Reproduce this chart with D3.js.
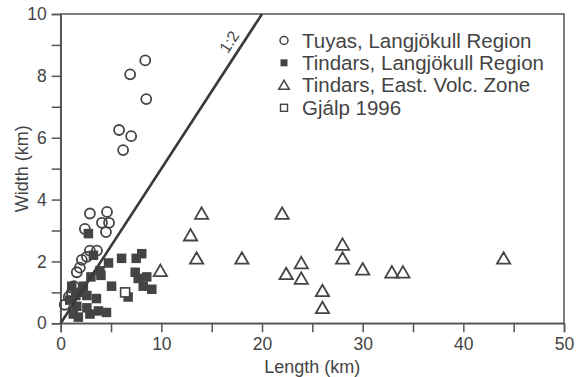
<!DOCTYPE html>
<html>
<head>
<meta charset="utf-8">
<script src="https://cdn.jsdelivr.net/npm/d3@7"></script>
<style>
body { margin: 0; background: #fff; }
text { font-family: "Liberation Sans", Arial, sans-serif; fill: #444; }
</style>
</head>
<body>
<div id="chart"></div>
<script>
// Tuyas, Langjökull Region (open circles)
var tuyasLength = [8.4, 6.9, 8.5, 5.8, 7.0, 6.2, 2.9, 4.6, 4.1, 4.8, 4.5, 2.4, 2.9, 3.6, 2.1, 2.6, 1.6, 1.9, 1.3, 0.8, 0.4, 1.1]
var tuyasWidth  = [8.5, 8.05, 7.25, 6.25, 6.05, 5.6, 3.55, 3.6, 3.25, 3.25, 2.95, 3.05, 2.35, 2.35, 2.05, 2.15, 1.65, 1.8, 1.2, 0.85, 0.6, 1.0]
// Tindars, Langjökull Region (filled squares)
var tindarsLength = [2.75, 3.25, 4.75, 3.9, 4.0, 6.05, 7.5, 8.05, 7.4, 7.7, 8.55, 8.2, 9.05, 5.05, 6.7, 1.1, 2.25, 2.6, 3.55, 0.9, 1.6, 2.6, 3.75, 4.55, 1.75, 2.9, 1.25, 2.0, 1.5, 3.0]
var tindarsWidth  = [2.9, 2.2, 1.95, 1.7, 1.55, 2.1, 2.1, 2.25, 1.65, 1.45, 1.5, 1.2, 1.1, 1.2, 0.85, 1.2, 1.2, 0.9, 0.8, 0.75, 0.55, 0.5, 0.4, 0.35, 0.2, 0.3, 0.3, 1.0, 0.9, 1.5]
// Tindars, East. Volc. Zone (open triangles)
var evzLength = [9.9, 14.0, 22.0, 12.9, 13.5, 18.0, 22.4, 23.9, 23.9, 26.0, 26.0, 28.0, 28.0, 30.0, 32.9, 34.0, 44.0]
var evzWidth  = [1.65, 3.5, 3.5, 2.8, 2.05, 2.05, 1.55, 1.9, 1.4, 1.0, 0.45, 2.5, 2.05, 1.7, 1.6, 1.6, 2.05]
// Gjálp 1996 (open square)
var gjalpLength = [6.4]
var gjalpWidth  = [1.0]

var legendLabels = ["Tuyas, Langjökull Region", "Tindars, Langjökull Region", "Tindars, East. Volc. Zone", "Gjálp 1996"]
var xTicks = [0, 10, 20, 30, 40, 50]
var yTicks = [0, 2, 4, 6, 8, 10]
var ratioLine = [[0, 0], [20, 10]]

var W = 585, H = 377
var margin = {left: 60.7, right: 21, top: 14, bottom: 53.7}
var ink = "#444"

var svg = d3.select("#chart").append("svg").attr("width", W).attr("height", H)

var x = d3.scaleLinear().domain([0, 50]).range([margin.left, W - margin.right])
var y = d3.scaleLinear().domain([0, 10]).range([H - margin.bottom, margin.top])

// frame
svg.append("rect")
    .attr("x", x(0)).attr("y", y(10))
    .attr("width", x(50) - x(0)).attr("height", y(0) - y(10))
    .attr("fill", "none").attr("stroke", "#555").attr("stroke-width", 1.5)

svg.append("g").attr("transform", "translate(0," + y(0) + ")")
    .call(d3.axisBottom(x).tickValues(d3.range(0, 51, 5)).tickSize(9).tickPadding(5)
        .tickFormat(function(d) { return xTicks.indexOf(d) >= 0 ? d : ""; }))
svg.append("g").attr("transform", "translate(" + x(0) + ",0)")
    .call(d3.axisLeft(y).tickValues(d3.range(0, 11, 1)).tickSize(9).tickPadding(5)
        .tickFormat(function(d) { return yTicks.indexOf(d) >= 0 ? d : ""; }))
svg.selectAll(".domain").attr("stroke", "#555").attr("stroke-width", 1.5)
svg.selectAll(".tick line").attr("stroke", "#555").attr("stroke-width", 1.5)
svg.selectAll(".tick text").attr("font-size", 17.5).attr("fill", ink)
    .attr("font-family", "Liberation Sans, Arial, sans-serif")

svg.append("text").attr("x", (x(0) + x(50)) / 2).attr("y", 373)
    .attr("text-anchor", "middle").attr("font-size", 18).text("Length (km)")
svg.append("text").attr("transform", "translate(27.5," + (y(5)) + ") rotate(-90)")
    .attr("text-anchor", "middle").attr("font-size", 18).text("Width (km)")

// markers
function pairs(a, b) { return a.map(function(v, i) { return [v, b[i]]; }); }
var sq = 9.5

svg.append("g").selectAll("rect").data(pairs(tindarsLength, tindarsWidth)).enter().append("rect")
    .attr("x", function(d) { return x(d[0]) - sq / 2; })
    .attr("y", function(d) { return y(d[1]) - sq / 2; })
    .attr("width", sq).attr("height", sq).attr("fill", ink)

svg.append("g").selectAll("circle").data(pairs(tuyasLength, tuyasWidth)).enter().append("circle")
    .attr("cx", function(d) { return x(d[0]); })
    .attr("cy", function(d) { return y(d[1]); })
    .attr("r", 5).attr("fill", "none").attr("stroke", ink).attr("stroke-width", 1.8)

var tri = d3.symbol().type(d3.symbolTriangle).size(76)
svg.append("g").selectAll("path").data(pairs(evzLength, evzWidth)).enter().append("path")
    .attr("d", tri)
    .attr("transform", function(d) { return "translate(" + x(d[0]) + "," + y(d[1]) + ")"; })
    .attr("fill", "none").attr("stroke", ink).attr("stroke-width", 1.8)

svg.append("g").selectAll("rect").data(pairs(gjalpLength, gjalpWidth)).enter().append("rect")
    .attr("x", function(d) { return x(d[0]) - 4.5; })
    .attr("y", function(d) { return y(d[1]) - 4.5; })
    .attr("width", 9).attr("height", 9)
    .attr("fill", "#fff").attr("stroke", ink).attr("stroke-width", 1.6)

// 1:2 line
svg.append("path").datum(ratioLine)
    .attr("d", d3.line().x(function(d) { return x(d[0]); }).y(function(d) { return y(d[1]); }))
    .attr("stroke", "#3a3a3a").attr("stroke-width", 2.6).attr("fill", "none")
var ang = Math.atan2(y(0) - y(10), x(20) - x(0)) * 180 / Math.PI
svg.append("text").attr("transform", "translate(" + x(17.2) + "," + y(9.0) + ") rotate(" + (-ang) + ")")
    .attr("text-anchor", "middle").attr("font-size", 16).text("1:2")

// legend
var lg = svg.append("g")
var ly = [40.5, 62.8, 85.3, 107.8]
lg.selectAll("text").data(legendLabels).enter().append("text")
    .attr("x", 302).attr("y", function(d, i) { return ly[i] + 7; })
    .attr("font-size", 20.5).text(function(d) { return d; })
lg.append("circle").attr("cx", 284).attr("cy", ly[0]).attr("r", 4)
    .attr("fill", "none").attr("stroke", ink).attr("stroke-width", 1.5)
lg.append("rect").attr("x", 280.5).attr("y", ly[1] - 3.5).attr("width", 7).attr("height", 7).attr("fill", ink)
lg.append("path").attr("d", d3.symbol().type(d3.symbolTriangle).size(48))
    .attr("transform", "translate(284," + (ly[2] + 1) + ")")
    .attr("fill", "none").attr("stroke", ink).attr("stroke-width", 1.5)
lg.append("rect").attr("x", 280.5).attr("y", ly[3] - 3.5).attr("width", 7).attr("height", 7)
    .attr("fill", "none").attr("stroke", ink).attr("stroke-width", 1.4)
</script>
</body>
</html>
